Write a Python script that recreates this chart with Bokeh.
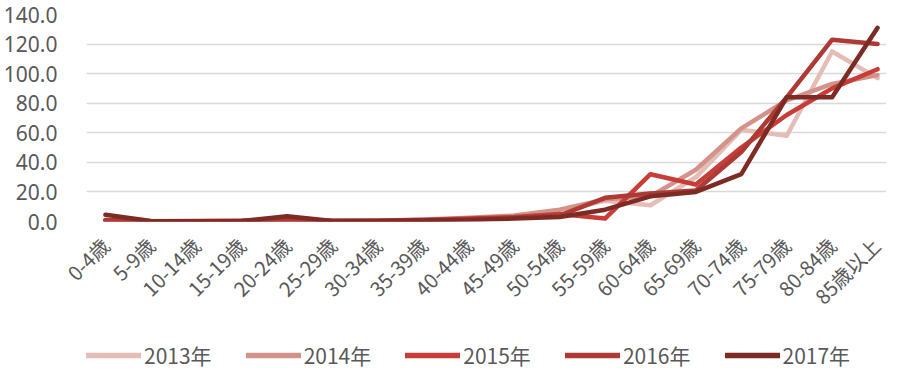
import math
from bokeh.plotting import figure
from bokeh.layouts import column
from bokeh.models import Range1d, FixedTicker, NumeralTickFormatter, Legend, LegendItem
from bokeh.embed import file_html
from bokeh.resources import INLINE

categories = ["0-4歳", "5-9歳", "10-14歳", "15-19歳", "20-24歳", "25-29歳", "30-34歳",
              "35-39歳", "40-44歳", "45-49歳", "50-54歳", "55-59歳", "60-64歳", "65-69歳",
              "70-74歳", "75-79歳", "80-84歳", "85歳以上"]
years = ["2013年", "2014年", "2015年", "2016年", "2017年"]

v2013 = [0.5, 0.2, 0.2, 0.3, 0.8, 0.4, 0.5, 1.5, 2.0, 3.5, 7.0, 14.0, 11.0, 30.0, 62.0, 58.0, 115.0, 97.0]
v2014 = [0.5, 0.2, 0.2, 0.3, 0.8, 0.4, 0.5, 1.2, 2.5, 4.0, 8.0, 15.0, 17.0, 35.0, 63.0, 82.0, 93.0, 99.0]
v2015 = [0.8, 0.2, 0.2, 0.3, 1.0, 0.3, 0.5, 1.0, 2.0, 3.0, 5.0, 2.0, 32.0, 25.0, 50.0, 72.0, 90.0, 103.0]
v2016 = [1.0, 0.2, 0.3, 0.3, 1.5, 0.3, 0.4, 0.8, 1.5, 2.5, 4.0, 16.0, 19.0, 21.0, 47.0, 84.0, 123.0, 120.0]
v2017 = [4.5, 0.3, 0.2, 0.3, 3.5, 0.3, 0.3, 0.6, 1.0, 2.0, 3.0, 8.0, 17.0, 20.0, 32.0, 84.0, 84.0, 131.0]

y_ticks = [0, 20, 40, 60, 80, 100, 120, 140]

series = [v2013, v2014, v2015, v2016, v2017]
colors = ["#e4bdb7", "#d3938b", "#c83d37", "#ad3a34", "#7e2b26"]

x = list(range(len(categories)))

p = figure(width=886, height=333, output_backend="svg", toolbar_location=None,
           x_range=Range1d(-0.417, 17.197), y_range=Range1d(0, 140),
           min_border_left=84, min_border_right=0, min_border_top=14, min_border_bottom=112)
p.outline_line_color = None
p.xgrid.visible = False
p.ygrid.grid_line_color = "#d9d9d9"
p.ygrid.grid_line_width = 1.5
p.ygrid.ticker = FixedTicker(ticks=y_ticks)

p.yaxis.ticker = FixedTicker(ticks=y_ticks)
p.yaxis.formatter = NumeralTickFormatter(format="0.0")
p.yaxis.axis_line_color = None
p.yaxis.major_tick_line_color = None
p.yaxis.minor_tick_line_color = None
p.yaxis.major_label_text_font_size = "21px"
p.yaxis.major_label_text_color = "#595959"
p.yaxis.major_label_text_font = "Noto Sans"
p.yaxis.major_label_standoff = 23

p.xaxis.ticker = FixedTicker(ticks=x)
p.xaxis.major_label_overrides = {i: c for i, c in enumerate(categories)}
p.xaxis.major_label_orientation = math.pi / 4
p.xaxis.axis_line_color = None
p.xaxis.major_tick_line_color = None
p.xaxis.minor_tick_line_color = None
p.xaxis.major_label_text_font_size = "20px"
p.xaxis.major_label_text_color = "#595959"
p.xaxis.major_label_text_font = "Noto Sans CJK JP"
p.xaxis.major_label_standoff = 14

for vals, col in zip(series, colors):
    p.line(x, vals, line_color=col, line_width=4.5, line_join="round", line_cap="round")

# legend strip (separate small figure holding only the legend)
q = figure(width=886, height=46, output_backend="svg", toolbar_location=None,
           x_range=Range1d(0, 1), y_range=Range1d(0, 1),
           x_axis_location=None, y_axis_location=None,
           min_border_left=0, min_border_right=0, min_border_top=0, min_border_bottom=0)
q.outline_line_color = None
q.xgrid.visible = False
q.ygrid.visible = False
items = []
for name, col in zip(years, colors):
    r = q.line([-2, -1], [-2, -2], line_color=col, line_width=5.5, line_cap="round")
    items.append(LegendItem(label=name, renderers=[r]))
legend = Legend(items=items, orientation="horizontal", location=(0, 9),
                label_text_font_size="21px", label_text_color="#595959",
                label_text_font="Noto Sans CJK JP", glyph_width=55, glyph_height=20,
                label_standoff=3, spacing=34, border_line_color=None,
                background_fill_alpha=0, margin=0, padding=0)
q.add_layout(legend, "center")

layout = column(p, q, spacing=0)
open("out.html", "w").write(file_html(layout, INLINE))
